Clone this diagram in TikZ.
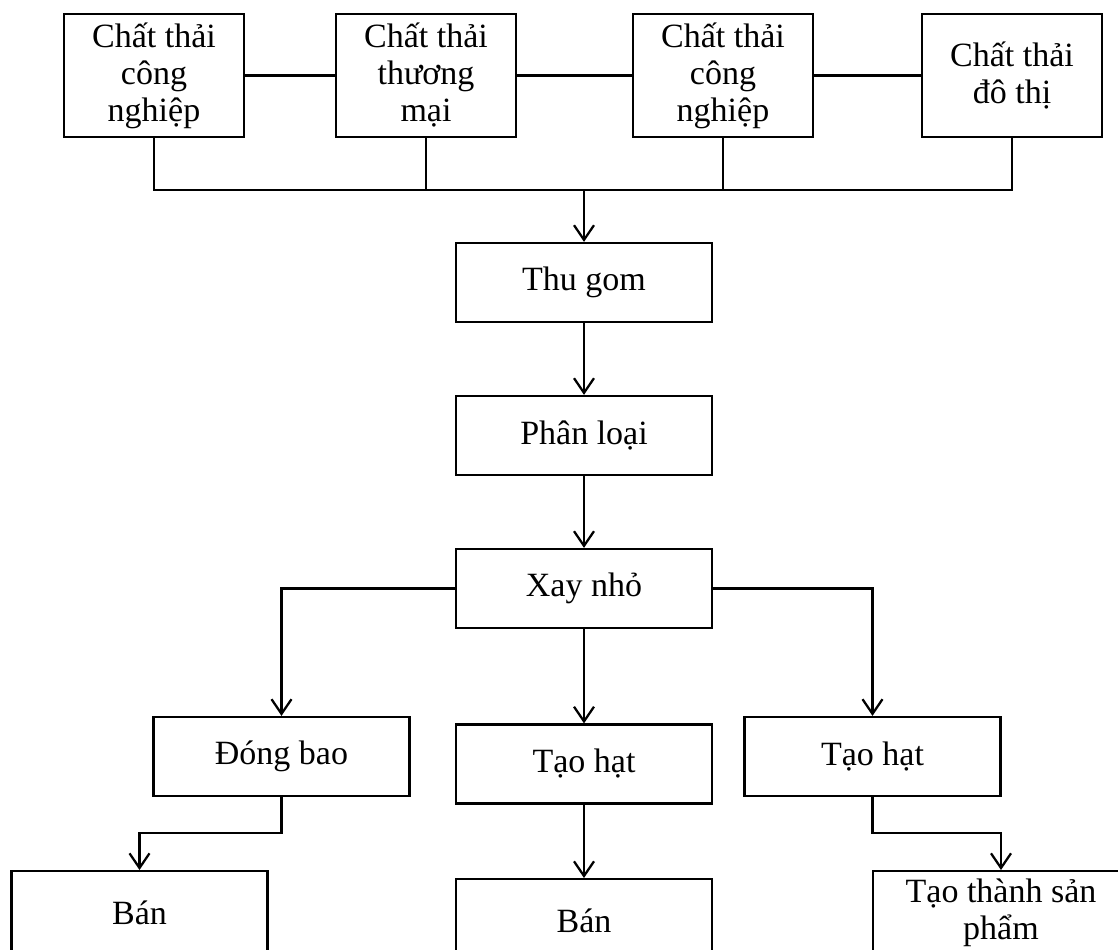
\documentclass[tikz,border=0pt]{standalone}
\usepackage{fontspec}
\setmainfont{Liberation Serif}
\usetikzlibrary{arrows.meta}

\begin{document}
\begin{tikzpicture}[x=0.75pt, y=-0.75pt, >={Straight Barb[length=11pt,width=15pt]},
  box/.style={draw, line width=1.7pt, inner sep=0pt, align=center,
    font=\fontsize{25.5}{27.75}\selectfont},
  waste/.style={box, minimum width=135pt, minimum height=92.25pt},
  step box/.style={box, minimum width=192pt, minimum height=59.25pt},
  end box/.style={box, anchor=north, minimum width=192pt, minimum height=63pt},
  link/.style={line width=1.7pt}]

% ----------------------------
% FRAME (pixel units, y grows downward)
% ----------------------------
\useasboundingbox (0,0) rectangle (1118,950);
\clip (0,0) rectangle (1118,950);

% ----------------------------
% SOURCES OF WASTE
% ----------------------------
\node[waste] (cA) at (154,75.5)  {Chất thải\\công\\nghiệp};
\node[waste] (cB) at (426,75.5)  {Chất thải\\thương\\mại};
\node[waste] (cC) at (723,75.5)  {Chất thải\\công\\nghiệp};
\node[waste] (cD) at (1012,75.5) {Chất thải\\đô thị};

\draw[link] (cA) -- (cB);
\draw[link] (cB) -- (cC);
\draw[link] (cC) -- (cD);

% collecting bus
\coordinate (bus) at (584,190);
\draw[link] (cA.south) |- (bus) -| (cD.south);
\draw[link] (cB.south) -- (cB.south |- bus);
\draw[link] (cC.south) -- (cC.south |- bus);

% ----------------------------
% MAIN CHAIN
% ----------------------------
\node[step box] (thugom)   at (584,282.5) {Thu gom};
\node[step box] (phanloai) at (584,435.5) {Phân loại};
\node[step box] (xaynho)   at (584,588.5) {Xay nhỏ};

\draw[link,->] (bus) -- (thugom);
\draw[link,->] (thugom) -- (phanloai);
\draw[link,->] (phanloai) -- (xaynho);

% ----------------------------
% BRANCHES
% ----------------------------
\node[step box] (dongbao) at (281.5,756.5) {Đóng bao};
\node[step box] (taohat1) at (584,764)     {Tạo hạt};
\node[step box] (taohat2) at (872.5,756.5) {Tạo hạt};

\draw[link,->] (xaynho.west) -| (dongbao.north);
\draw[link,->] (xaynho) -- (taohat1);
\draw[link,->] (xaynho.east) -| (taohat2.north);

% ----------------------------
% OUTPUTS (cut by the frame)
% ----------------------------
\node[end box] (ban1)     at (139.5,870) {Bán};
\node[end box] (ban2)     at (584,878)   {Bán};
\node[end box] (taothanh) at (1001,870)  {Tạo thành sản\\phẩm};

\draw[link,->] (dongbao.south) -- ++(0,36) -| (ban1.north);
\draw[link,->] (taohat1) -- (ban2);
\draw[link,->] (taohat2.south) -- ++(0,36) -| (taothanh.north);

\end{tikzpicture}
\end{document}
